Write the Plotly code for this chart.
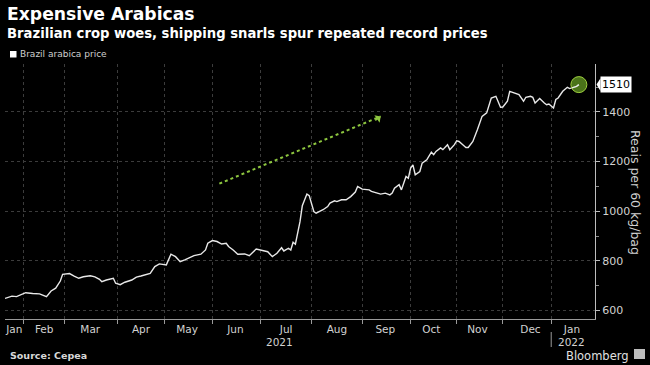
import plotly.graph_objects as go
import pandas as pd

# ---------------- data ----------------
dates = [
    "2021-01-20", "2021-01-25", "2021-01-27", "2021-01-29", "2021-02-02", "2021-02-05",
    "2021-02-10", "2021-02-17", "2021-02-19", "2021-02-23", "2021-02-25", "2021-02-26",
    "2021-03-03", "2021-03-05", "2021-03-09", "2021-03-11", "2021-03-16", "2021-03-18",
    "2021-03-22", "2021-03-23", "2021-03-25", "2021-03-30", "2021-03-31", "2021-04-05",
    "2021-04-07", "2021-04-12", "2021-04-14", "2021-04-16", "2021-04-20", "2021-04-23",
    "2021-04-27", "2021-04-29", "2021-05-04", "2021-05-05", "2021-05-06", "2021-05-10",
    "2021-05-11", "2021-05-12", "2021-05-14", "2021-05-18", "2021-05-20", "2021-05-25",
    "2021-05-27", "2021-05-28", "2021-06-01", "2021-06-04", "2021-06-08", "2021-06-10",
    "2021-06-11", "2021-06-15", "2021-06-17", "2021-06-22", "2021-06-24", "2021-06-29",
    "2021-07-01", "2021-07-06", "2021-07-08", "2021-07-12", "2021-07-14", "2021-07-15",
    "2021-07-19", "2021-07-20", "2021-07-21", "2021-07-22", "2021-07-26", "2021-07-27",
    "2021-07-29", "2021-07-30", "2021-08-03", "2021-08-04", "2021-08-09", "2021-08-11",
    "2021-08-12", "2021-08-16", "2021-08-17", "2021-08-19", "2021-08-23", "2021-08-25",
    "2021-08-27", "2021-08-30", "2021-09-01", "2021-09-06", "2021-09-08", "2021-09-10",
    "2021-09-14", "2021-09-16", "2021-09-20", "2021-09-21", "2021-09-22", "2021-09-24",
    "2021-09-27", "2021-09-29", "2021-09-30", "2021-10-01", "2021-10-04", "2021-10-05",
    "2021-10-07", "2021-10-08", "2021-10-13", "2021-10-15", "2021-10-18", "2021-10-19",
    "2021-10-21", "2021-10-22", "2021-10-25", "2021-10-26", "2021-10-27", "2021-10-29",
    "2021-11-01", "2021-11-03", "2021-11-05", "2021-11-08", "2021-11-09", "2021-11-11",
    "2021-11-16", "2021-11-17", "2021-11-18", "2021-11-22", "2021-11-23", "2021-11-24",
    "2021-11-26", "2021-11-29", "2021-11-30", "2021-12-01", "2021-12-03", "2021-12-06",
    "2021-12-08", "2021-12-10", "2021-12-14", "2021-12-15", "2021-12-17", "2021-12-20",
    "2021-12-21", "2021-12-23", "2021-12-28", "2021-12-29", "2021-12-30", "2022-01-04",
    "2022-01-05", "2022-01-06", "2022-01-10", "2022-01-11", "2022-01-12", "2022-01-13",
    "2022-01-14", "2022-01-18", "2022-01-19",
]
prices = [
    649, 658, 656, 663, 672, 669,
    667, 656, 679, 690, 719, 746,
    749, 739, 730, 736, 740, 736,
    726, 716, 723, 730, 710, 704,
    714, 723, 735, 739, 746, 750,
    777, 788, 784, 804, 827, 817,
    808, 797, 804, 813, 821, 827,
    844, 871, 882, 878, 868, 871,
    858, 844, 827, 828, 821, 848,
    844, 837, 817, 831, 853, 840,
    851, 844, 875, 867, 958, 1022,
    1069, 1063, 999, 992, 1006, 1019,
    1033, 1042, 1039, 1046, 1046, 1059,
    1077, 1100, 1089, 1086, 1080, 1073,
    1069, 1073, 1066, 1073, 1093, 1107,
    1086, 1140, 1133, 1174, 1187, 1147,
    1160, 1194, 1207, 1238, 1228, 1241,
    1255, 1248, 1257, 1268, 1248, 1268,
    1284, 1281, 1265, 1257, 1257, 1281,
    1329, 1356, 1382, 1396, 1429, 1456,
    1463, 1443, 1419, 1420, 1443, 1483,
    1477, 1470, 1443, 1459, 1463, 1459,
    1436, 1454, 1436, 1429, 1432, 1416,
    1450, 1456, 1483, 1490, 1499, 1494,
    1497, 1503, 1510,
]
holidays = ["2021-02-15", "2021-02-16", "2021-04-02", "2021-04-21", "2021-06-03",
            "2021-09-07", "2021-10-12", "2021-11-02", "2021-11-15", "2021-12-24", "2021-12-31"]
y_ticks = [600, 800, 1000, 1200, 1400]
month_labels = ["Jan", "Feb", "Mar", "Apr", "May", "Jun", "Jul", "Aug", "Sep", "Oct", "Nov", "Dec", "Jan"]
series_name = "Brazil arabica price"
x_start, x_end = "2021-01-20", "2022-01-28"
y_min, y_max = 566, 1593

# ---------------- helpers ----------------
hol = set(pd.Timestamp(h) for h in holidays)

def is_off(d):
    return d.weekday() >= 5 or d in hol

def next_tday(d):
    while is_off(d):
        d += pd.Timedelta(days=1)
    return d

def prev_tday(d):
    while is_off(d):
        d -= pd.Timedelta(days=1)
    return d

month_starts = [next_tday(pd.Timestamp(2021, m, 1)) for m in range(2, 13)] + [next_tday(pd.Timestamp(2022, 1, 1))]
bounds = [pd.Timestamp(x_start)] + month_starts + [pd.Timestamp(x_end)]
label_pos = [prev_tday((bounds[i] + (bounds[i + 1] - bounds[i]) / 2).normalize()) for i in range(len(bounds) - 1)]

fmt = lambda d: d.strftime("%Y-%m-%d")

GRID = "#3c3c3c"
TXT = "#d2d2d2"
GREEN = "#8dc63f"
FONT = "DejaVu Sans"

fig = go.Figure()
fig.add_trace(go.Scatter(
    x=dates, y=prices, mode="lines", name=series_name,
    line=dict(color="#e8e8e8", width=1.4), showlegend=False, hoverinfo="skip",
))
# highlighted last point
fig.add_trace(go.Scatter(
    x=[dates[-1]], y=[prices[-1]], mode="markers", showlegend=False, hoverinfo="skip",
    marker=dict(size=16, color="rgba(88,135,30,0.85)", line=dict(color="#9fd040", width=1)),
))
# redraw line tail over the marker
fig.add_trace(go.Scatter(
    x=dates[-3:], y=prices[-3:], mode="lines", showlegend=False, hoverinfo="skip",
    line=dict(color="#e8e8e8", width=1.4),
))

fig.update_layout(
    width=650, height=365,
    paper_bgcolor="black", plot_bgcolor="black",
    margin=dict(l=5, r=55, t=64, b=46, autoexpand=False),
    font=dict(family=FONT, color=TXT, size=11),
    hovermode=False,
)

fig.update_xaxes(
    type="date",
    automargin=False,
    range=[x_start, x_end],
    rangebreaks=[dict(bounds=["sat", "mon"]), dict(values=holidays)],
    tickmode="array",
    tickvals=[fmt(d) for d in label_pos],
    ticktext=month_labels,
    ticks="", showgrid=False,
    tickfont=dict(size=10.5, color=TXT, family=FONT),
    showline=True, linecolor="#9a9a9a", linewidth=1,
    zeroline=False,
    minor=dict(tickmode="array", tickvals=[fmt(d) for d in month_starts],
               showgrid=True, gridcolor=GRID, griddash="dot", gridwidth=1,
               ticks="outside", ticklen=4, tickcolor="#9a9a9a"),
)

fig.update_yaxes(
    side="right",
    automargin=False,
    range=[y_min, y_max],
    tickmode="array", tickvals=y_ticks,
    ticks="outside", ticklen=4, tickcolor="#bdbdbd",
    tickfont=dict(size=11, color=TXT, family=FONT),
    showgrid=True, gridcolor=GRID, griddash="dot", gridwidth=1,
    showline=True, linecolor="#bdbdbd", linewidth=1,
    zeroline=False,
    minor=dict(dtick=100, tick0=0, ticks="outside", ticklen=3, tickcolor="#8a8a8a", showgrid=False),
)

PH = 255.0  # plot height in px
PW = 590.0
def py(pix):
    return (319 - pix) / PH
def px(pix):
    return (pix - 5) / PW

annotations = [
    dict(text="<b>Expensive Arabicas</b>", x=px(5), y=py(14), xref="paper", yref="paper",
         xanchor="left", yanchor="middle", showarrow=False, font=dict(size=17.2, color="white", family=FONT)),
    dict(text="<b>Brazilian crop woes, shipping snarls spur repeated record prices</b>", x=px(5), y=py(33),
         xref="paper", yref="paper", xanchor="left", yanchor="middle", showarrow=False,
         font=dict(size=13.2, color="white", family=FONT)),
    dict(text=series_name, x=px(18), y=py(54), xref="paper", yref="paper", xanchor="left", yanchor="middle",
         showarrow=False, font=dict(size=9, color="#cfcfcf", family=FONT)),
    dict(text="Reais per 60 kg/bag", x=px(636), y=py(192), xref="paper", yref="paper", textangle=90,
         xanchor="center", yanchor="middle", showarrow=False, font=dict(size=12.5, color=TXT, family=FONT)),
    dict(text="2021", x=fmt(prev_tday(pd.Timestamp(x_start) + (month_starts[-1] - pd.Timestamp(x_start)) / 2)),
         y=py(342), xref="x", yref="paper", xanchor="center", yanchor="middle", showarrow=False,
         font=dict(size=10.5, color=TXT, family=FONT)),
    dict(text="2022", x=fmt(label_pos[-1]), y=py(342), xref="x", yref="paper", xanchor="center", yanchor="middle",
         showarrow=False, font=dict(size=10.5, color=TXT, family=FONT)),
    dict(text="<b>Source: Cepea</b>", x=px(8), y=py(355), xref="paper", yref="paper", xanchor="left",
         yanchor="middle", showarrow=False, font=dict(size=9.5, color="#d8d8d8", family=FONT)),
    dict(text="Bloomberg", x=px(631), y=py(356), xref="paper", yref="paper", xanchor="right",
         yanchor="middle", showarrow=False, font=dict(size=11.5, color="#e0e0e0", family=FONT)),
    dict(text=str(prices[-1]), x=px(600), y=prices[-1], xref="paper", yref="y", xanchor="left",
         yanchor="middle", showarrow=False, bgcolor="white", borderpad=1,
         font=dict(size=11, color="black", family=FONT)),
    # arrow head for the trend arrow
    dict(text="", x="2021-09-14", y=1382, xref="x", yref="y", ax="2021-09-09", ay=1362,
         axref="x", ayref="y", showarrow=True, arrowhead=1, arrowsize=1, arrowwidth=1.5, arrowcolor=GREEN),
]

shapes = [
    # legend swatch
    dict(type="rect", xref="paper", yref="paper", x0=px(10), x1=px(16.5), y0=py(57.5), y1=py(51),
         fillcolor="white", line=dict(width=0)),
    # trend arrow line
    dict(type="line", xref="x", yref="y", x0="2021-06-07", y0=1111, x1="2021-09-14", y1=1382,
         line=dict(color=GREEN, width=2, dash="dot")),
    # year separator
    dict(type="line", xref="x", yref="paper", x0=fmt(month_starts[-1]), x1=fmt(month_starts[-1]),
         y0=py(332), y1=py(347), line=dict(color="#9a9a9a", width=1)),
    # last value tag pointer
    dict(type="path", xref="paper", yref="y",
         path=f"M {px(596.5)} {prices[-1]} L {px(600.5)} {prices[-1] + 26} L {px(600.5)} {prices[-1] - 26} Z",
         fillcolor="white", line=dict(width=0)),
    # Bloomberg logo
    dict(type="rect", xref="paper", yref="paper", x0=px(634), x1=px(645), y0=py(359), y1=py(349),
         fillcolor="#bdbdbd", line=dict(width=0)),
]

fig.update_layout(annotations=annotations, shapes=shapes)
fig.write_html("out.html", config={"displayModeBar": False, "staticPlot": True},
               post_script="document.body.style.margin='0px';document.body.style.overflow='hidden';")
